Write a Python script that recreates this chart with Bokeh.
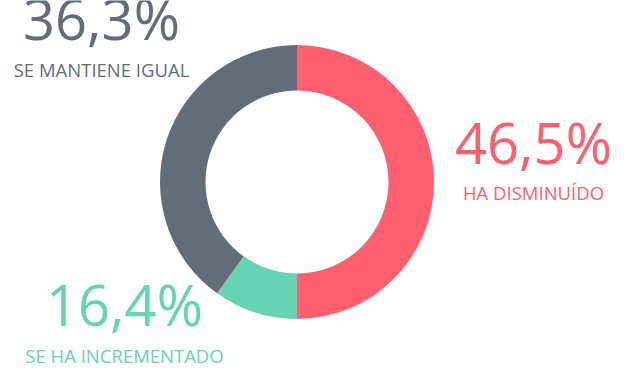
import math
from bokeh.plotting import figure
from bokeh.models import Range1d, ColumnDataSource
from bokeh.core.properties import value
from bokeh.embed import file_html
from bokeh.resources import INLINE

# ---- data ----
categories = ["HA DISMINUÍDO", "SE HA INCREMENTADO", "SE MANTIENE IGUAL"]
pct_labels = ["46,5%", "16,4%", "36,3%"]
slice_shares = [50.0, 9.9, 40.1]  # slice sizes as drawn in the ring
colors = ["#ff5f6e", "#66d4b4", "#636d7a"]

# ---- layout (pixels, y measured from top) ----
W, H = 637, 375
cx, cy_top = 296.5, 181.5
r_in, r_out = 91.5, 137.0
label_x = [533, 124, 101]
num_base = [141, 303, 17]
cat_base = [192, 355, 69]

p = figure(width=W, height=H, output_backend="svg", toolbar_location=None,
           x_range=Range1d(0, W), y_range=Range1d(0, H),
           min_border=0, outline_line_color=None)
p.axis.visible = False
p.grid.visible = False
p.background_fill_color = "white"
p.border_fill_color = "white"

total = sum(slice_shares)
starts, ends = [], []
acc = 0.0
for v in slice_shares:
    starts.append(math.pi / 2 - 2 * math.pi * acc / total)
    acc += v
    ends.append(math.pi / 2 - 2 * math.pi * acc / total)

src = ColumnDataSource(dict(x=[cx] * 3, y=[H - cy_top] * 3, start=starts, end=ends, color=colors))
p.annular_wedge(x="x", y="y", inner_radius=r_in, outer_radius=r_out,
                start_angle="start", end_angle="end", direction="clock",
                fill_color="color", line_color=None, source=src)

tsrc = ColumnDataSource(dict(
    x=label_x,
    yn=[H - b for b in num_base],
    yc=[H - b for b in cat_base],
    num=pct_labels, cat=categories, color=colors))
p.text(x="x", y="yn", text="num", text_color="color", text_align="center",
       text_baseline="alphabetic", text_font=value("Open Sans"),
       text_font_size="56px", source=tsrc)
p.text(x="x", y="yc", text="cat", text_color="color", text_align="center",
       text_baseline="alphabetic", text_font=value("Open Sans"),
       text_font_size="18.5px", source=tsrc)

open("out.html", "w").write(file_html(p, INLINE))
